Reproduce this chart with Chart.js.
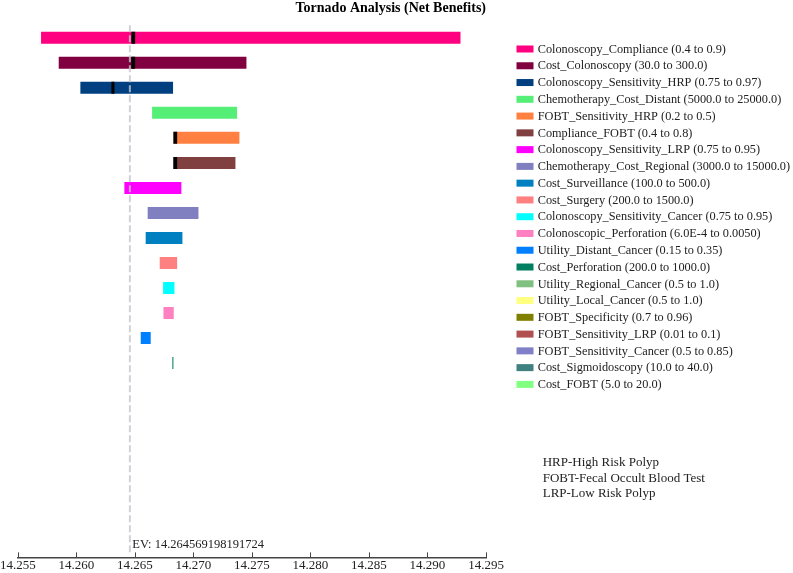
<!DOCTYPE html>
<html>
<head>
<meta charset="utf-8">
<script src="https://cdn.jsdelivr.net/npm/chart.js@4/dist/chart.umd.min.js"></script>
<style>
  html, body { margin: 0; padding: 0; background: #fff; }
  #wrap { width: 793px; height: 573px; position: relative; }
</style>
</head>
<body>
<div id="wrap"><canvas id="c" width="793" height="573"></canvas></div>
<script>
// ---------- data ----------
const categories = [
  "Colonoscopy_Compliance", "Cost_Colonoscopy", "Colonoscopy_Sensitivity_HRP",
  "Chemotherapy_Cost_Distant", "FOBT_Sensitivity_HRP", "Compliance_FOBT",
  "Colonoscopy_Sensitivity_LRP", "Chemotherapy_Cost_Regional", "Cost_Surveillance",
  "Cost_Surgery", "Colonoscopy_Sensitivity_Cancer", "Colonoscopic_Perforation",
  "Utility_Distant_Cancer", "Cost_Perforation", "Utility_Regional_Cancer",
  "Utility_Local_Cancer", "FOBT_Specificity", "FOBT_Sensitivity_LRP",
  "FOBT_Sensitivity_Cancer", "Cost_Sigmoidoscopy", "Cost_FOBT"
];
const ranges = [
  "0.4 to 0.9", "30.0 to 300.0", "0.75 to 0.97", "5000.0 to 25000.0", "0.2 to 0.5",
  "0.4 to 0.8", "0.75 to 0.95", "3000.0 to 15000.0", "100.0 to 500.0", "200.0 to 1500.0",
  "0.75 to 0.95", "6.0E-4 to 0.0050", "0.15 to 0.35", "200.0 to 1000.0", "0.5 to 1.0",
  "0.5 to 1.0", "0.7 to 0.96", "0.01 to 0.1", "0.5 to 0.85", "10.0 to 40.0", "5.0 to 20.0"
];
const lowValues = [
  14.25698, 14.25849, 14.26034, 14.26647, 14.26829, 14.26829, 14.26410, 14.26609,
  14.26592, 14.26712, 14.26741, 14.26744, 14.26550, 14.26820, 14.26823, 14.26823,
  14.26823, 14.26823, 14.26823, 14.26823, 14.26823
];
const highValues = [
  14.29282, 14.27453, 14.26826, 14.27373, 14.27393, 14.27359, 14.26897, 14.27043,
  14.26906, 14.26861, 14.26838, 14.26832, 14.26635, 14.26829, 14.26823, 14.26823,
  14.26823, 14.26823, 14.26823, 14.26823, 14.26823
];
// black marks drawn on some bars
const markerLow  = [14.26470, 14.26470, 14.26299, null, 14.26829, 14.26829];
const markerHigh = [14.26502, 14.26502, 14.26325, null, 14.26861, 14.26861];
const barColors = [
  "#FF0080", "#800040", "#004080", "#55EE77", "#FF8040", "#804040", "#FF00FF",
  "#8080C0", "#0080C0", "#FF8080", "#00FFFF", "#FF80C0", "#0080FF", "#008060",
  "#80C080", "#FFFF80", "#808000", "#B05050", "#8080C8", "#408080", "#80FF80"
];
const xMin = 14.255, xMax = 14.295, xStep = 0.005;
const evValue = 14.264569198191724;
const evLabel = "EV: 14.264569198191724";
const titleText = "Tornado Analysis (Net Benefits)";
const notes = ["HRP-High Risk Polyp", "FOBT-Fecal Occult Blood Test", "LRP-Low Risk Polyp"];

// ---------- build ----------
const SERIF = "'Liberation Serif', 'Times New Roman', serif";
const barData = categories.map((c, i) => ({ y: i, x: [lowValues[i], highValues[i]] }));
const markData = [];
markerLow.forEach((v, i) => { if (v !== null) markData.push({ y: i, x: [v, markerHigh[i]] }); });

const overlayPlugin = {
  id: 'overlay',
  afterDatasetsDraw(chart) {
    const ctx = chart.ctx, xs = chart.scales.x, area = chart.chartArea;
    const ex = xs.getPixelForValue(evValue);
    ctx.save();
    ctx.strokeStyle = 'rgba(195,198,205,0.8)';
    ctx.lineWidth = 2;
    ctx.setLineDash([7, 3]);
    ctx.beginPath();
    ctx.moveTo(ex, area.top);
    ctx.lineTo(ex, area.bottom - 4);
    ctx.stroke();
    ctx.restore();
  },
  afterDraw(chart) {
    const ctx = chart.ctx, xs = chart.scales.x, area = chart.chartArea;
    ctx.save();
    // upward tick marks
    ctx.strokeStyle = '#444';
    ctx.lineWidth = 1;
    xs.ticks.forEach(t => {
      const px = Math.round(xs.getPixelForValue(t.value)) + 0.5;
      ctx.beginPath();
      ctx.moveTo(px, area.bottom);
      ctx.lineTo(px, area.bottom - 5);
      ctx.stroke();
    });
    // EV label
    ctx.fillStyle = '#222';
    ctx.font = '12.5px ' + SERIF;
    ctx.textBaseline = 'middle';
    ctx.textAlign = 'left';
    ctx.fillText(evLabel, xs.getPixelForValue(evValue) + 2.5, area.bottom - 12.5);
    // legend
    ctx.font = '12.3px ' + SERIF;
    const lx = 516.5, ly0 = 49, dy = 16.77;
    categories.forEach((c, i) => {
      const cy = ly0 + dy * i;
      ctx.fillStyle = barColors[i];
      ctx.fillRect(lx, cy - 3.5, 17, 7);
      ctx.fillStyle = '#222';
      ctx.fillText(c + ' (' + ranges[i] + ')', 537.7, cy + 0.5);
    });
    // notes
    ctx.font = '13px ' + SERIF;
    notes.forEach((n, i) => {
      ctx.fillText(n, 542.7, 462.7 + 15.5 * i);
    });
    ctx.restore();
  }
};

new Chart(document.getElementById('c'), {
  type: 'bar',
  data: {
    datasets: [
      {
        label: 'marks',
        data: markData,
        backgroundColor: '#000',
        borderWidth: 0,
        inflateAmount: 0,
        barThickness: 12,
        grouped: false,
        order: 0
      },
      {
        label: 'bars',
        data: barData,
        backgroundColor: barColors,
        borderWidth: 0,
        inflateAmount: 0,
        barThickness: 12,
        grouped: false,
        order: 1
      }
    ]
  },
  options: {
    indexAxis: 'y',
    responsive: false,
    animation: false,
    layout: { padding: { left: 17.5, right: 307, top: 0, bottom: 0 } },
    plugins: {
      legend: { display: false },
      tooltip: { enabled: false },
      title: {
        display: true,
        text: titleText,
        align: 'end',
        color: '#000',
        font: { family: SERIF, size: 14, weight: 'bold' },
        padding: { top: 0, bottom: 8.5 }
      }
    },
    scales: {
      x: {
        type: 'linear',
        position: 'bottom',
        min: xMin,
        max: xMax,
        ticks: {
          stepSize: xStep,
          autoSkip: false,
          maxRotation: 0,
          padding: 0,
          color: '#222',
          font: { family: SERIF, size: 13 },
          callback: v => Number(v).toFixed(3)
        },
        grid: { display: true, drawOnChartArea: false, drawTicks: false },
        border: { display: true, color: '#444', width: 1.5 }
      },
      y: {
        type: 'linear',
        display: false,
        reverse: true,
        offset: false,
        min: -0.5,
        max: 20.77
      }
    }
  },
  plugins: [overlayPlugin]
});
</script>
</body>
</html>
